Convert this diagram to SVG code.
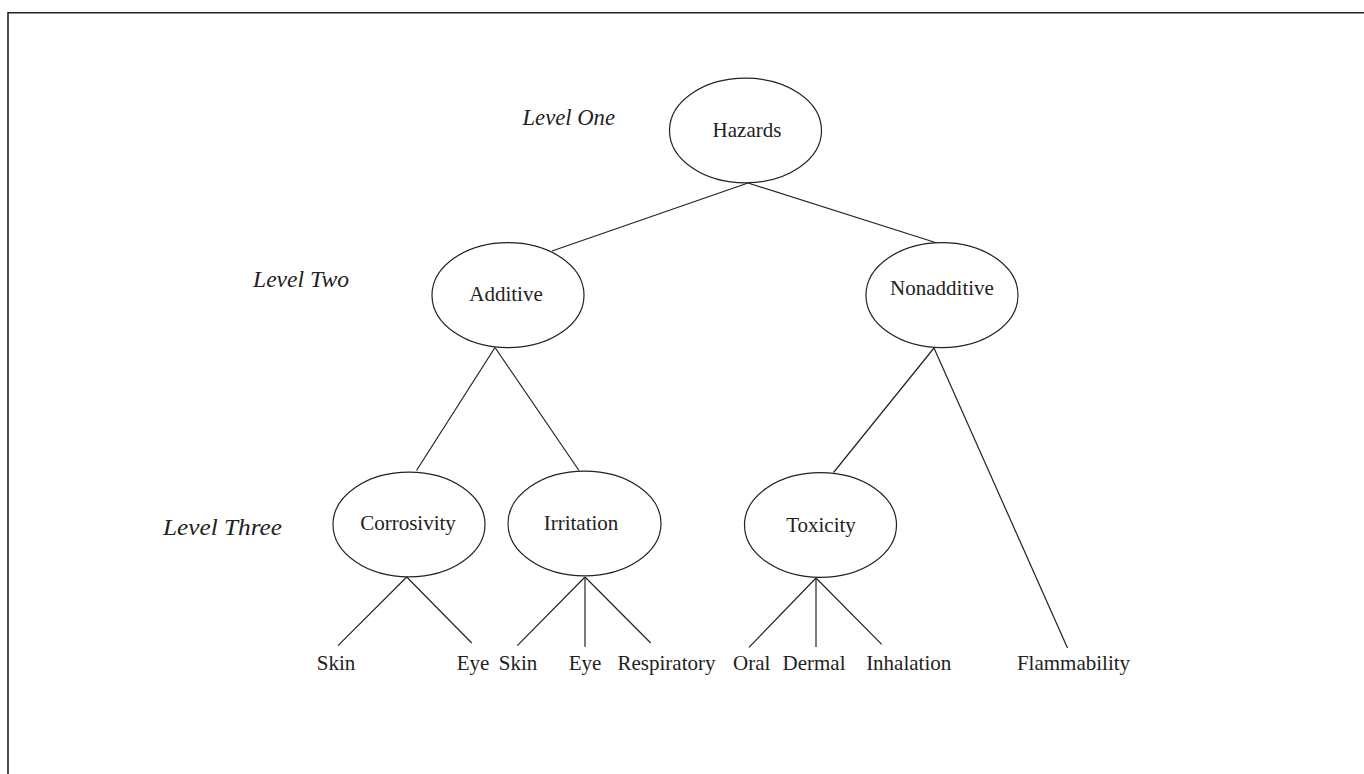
<svg xmlns="http://www.w3.org/2000/svg" width="1364" height="774" viewBox="0 0 1364 774">
<style>
.node ellipse{fill:#fff;stroke:#222;stroke-width:1.2}
.t{font-family:"Liberation Serif","Times New Roman",serif;font-size:21px;fill:#222;text-anchor:middle}
.lvl{font-family:"Liberation Serif","Times New Roman",serif;font-size:23px;font-style:italic;fill:#222}
#connectors line{stroke:#222;stroke-width:1.2}
</style>
<rect width="1364" height="774" fill="#fff"/>
<g id="frame" stroke="#222" stroke-width="1.6" fill="none">
<line x1="8" y1="12.7" x2="1364" y2="12.7"/>
<line x1="8" y1="12" x2="8" y2="774"/>
</g>
<g id="levels">
<text class="lvl" x="522.5" y="125" textLength="92.5" lengthAdjust="spacingAndGlyphs">Level One</text>
<text class="lvl" x="253" y="287" textLength="96" lengthAdjust="spacingAndGlyphs">Level Two</text>
<text class="lvl" x="163" y="535" textLength="119" lengthAdjust="spacingAndGlyphs">Level Three</text>
</g>
<g id="connectors">
<line x1="748" y1="183" x2="552" y2="251"/>
<line x1="748" y1="183" x2="937" y2="243"/>
<line x1="495" y1="347.5" x2="416.5" y2="470.5"/>
<line x1="495" y1="347.5" x2="579" y2="470.5"/>
<line x1="934" y1="348" x2="833.5" y2="472.5"/>
<line x1="934" y1="348" x2="1067.5" y2="648"/>
<line x1="406.7" y1="577" x2="338" y2="645.7"/>
<line x1="406.7" y1="577" x2="471.7" y2="643"/>
<line x1="585" y1="577" x2="517.3" y2="645.7"/>
<line x1="585" y1="577" x2="585" y2="646.7"/>
<line x1="585" y1="577" x2="650.7" y2="643"/>
<line x1="816" y1="578" x2="749" y2="647.3"/>
<line x1="816" y1="578" x2="816" y2="647"/>
<line x1="816" y1="578" x2="881.7" y2="644.3"/>
</g>
<g id="hazards" class="node"><ellipse cx="745.5" cy="130.5" rx="76" ry="52.3"/><text class="t" x="747" y="137">Hazards</text></g>
<g id="additive" class="node"><ellipse cx="508" cy="295.2" rx="76" ry="52.5"/><text class="t" x="506" y="301">Additive</text></g>
<g id="nonadditive" class="node"><ellipse cx="942" cy="295.2" rx="76" ry="52.5"/><text class="t" x="942" y="295">Nonadditive</text></g>
<g id="corrosivity" class="node"><ellipse cx="409" cy="524.5" rx="76" ry="52.3"/><text class="t" x="408" y="530">Corrosivity</text></g>
<g id="irritation" class="node"><ellipse cx="584.5" cy="523.5" rx="76.5" ry="52.3"/><text class="t" x="581" y="530">Irritation</text></g>
<g id="toxicity" class="node"><ellipse cx="820.5" cy="525" rx="76" ry="52.3"/><text class="t" x="821" y="532">Toxicity</text></g>
<g id="leaves">
<g id="corr-skin"><text class="t" x="336" y="670">Skin</text></g>
<g id="corr-eye"><text class="t" x="473" y="670">Eye</text></g>
<g id="irr-skin"><text class="t" x="518" y="670">Skin</text></g>
<g id="irr-eye"><text class="t" x="585" y="670">Eye</text></g>
<g id="irr-resp"><text class="t" x="666.5" y="670">Respiratory</text></g>
<g id="tox-oral"><text class="t" x="751.7" y="670">Oral</text></g>
<g id="tox-dermal"><text class="t" x="814" y="670">Dermal</text></g>
<g id="tox-inh"><text class="t" x="908.7" y="670">Inhalation</text></g>
<g id="flammability"><text class="t" x="1073.5" y="670">Flammability</text></g>
</g>
</svg>
